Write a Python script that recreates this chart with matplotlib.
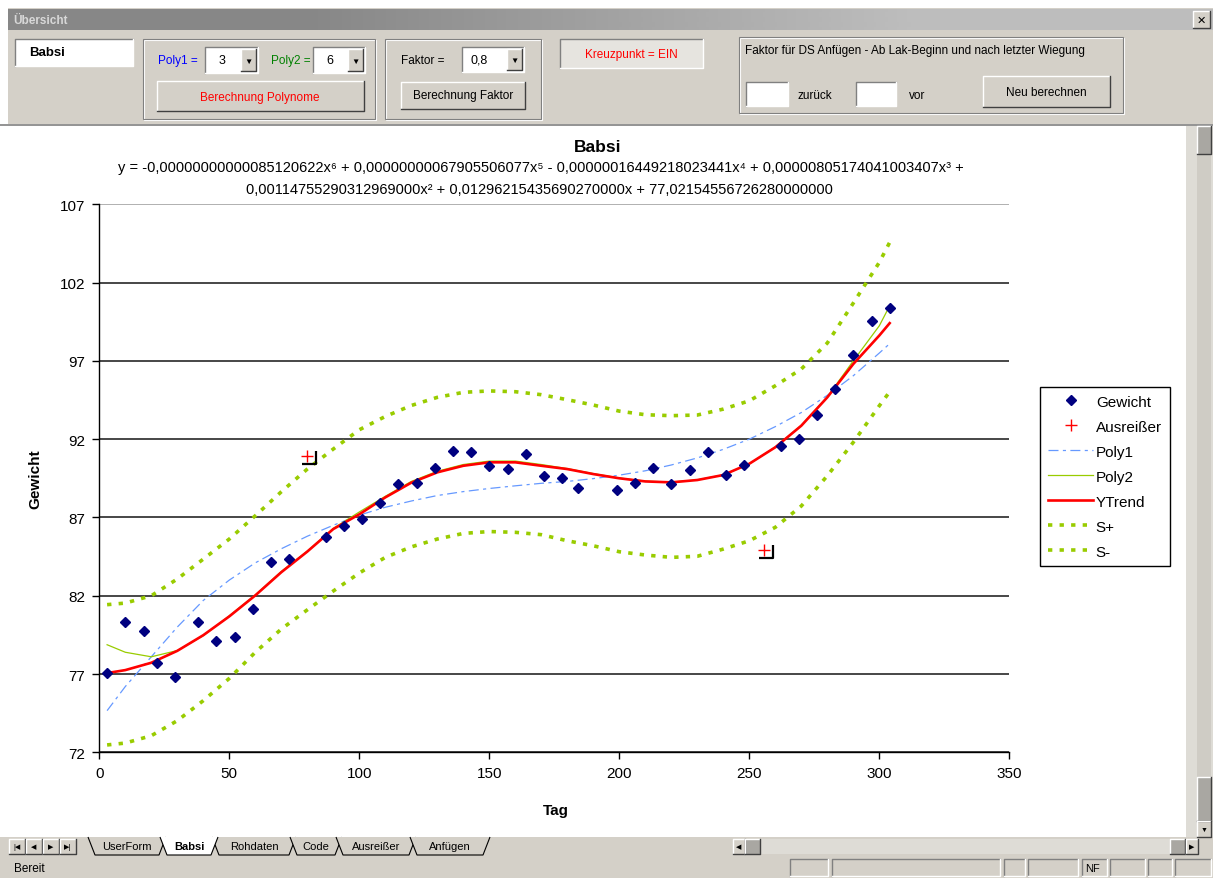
import matplotlib.pyplot as plt
from matplotlib.patches import Rectangle, Polygon
from matplotlib.path import Path
from matplotlib.colors import LinearSegmentedColormap

plt.rcParams['font.family'] = ['Liberation Sans', 'DejaVu Sans']

tag = [3, 10, 17, 22, 29, 38, 45, 52, 59, 66, 73, 87, 94, 101, 108, 115, 122, 129, 136, 143,
       150, 157, 164, 171, 178, 184, 199, 206, 213, 220, 227, 234, 241, 248, 262, 269, 276, 283,
       290, 297, 304]
gewicht = [77.06, 80.34, 79.75, 77.68, 76.79, 80.34, 79.13, 79.34, 81.15, 84.17, 84.32, 85.75,
           86.43, 86.9, 87.92, 89.13, 89.22, 90.13, 91.26, 91.2, 90.28, 90.07, 91.05, 89.66,
           89.53, 88.86, 88.77, 89.22, 90.15, 89.13, 90.0, 91.2, 89.69, 90.37, 91.56, 92.03,
           93.54, 95.18, 97.39, 99.56, 100.37]

# Ausreisser
aus_tag = [80, 255.5]
aus_wert = [90.94, 84.92]

kurve_tag = [3, 10, 20, 30, 40, 50, 60, 70, 80, 90, 100, 110, 120, 130, 140, 150, 160, 170,
             180, 190, 200, 210, 220, 230, 240, 250, 260, 270, 280, 290, 300, 304]
poly1 = [74.66, 76.2, 78.1, 80.0, 81.7, 83.0, 84.1, 85.0, 85.8, 86.5, 87.15, 87.65, 88.05, 88.4,
         88.65, 88.85, 89.02, 89.18, 89.3, 89.48, 89.7, 89.98, 90.35, 90.8, 91.35, 92.0, 92.8,
         93.7, 94.8, 96.05, 97.5, 98.1]
poly2 = [78.87, 78.39, 78.1, 78.5, 79.45, 80.72, 82.05, 83.55, 84.85, 86.3, 87.35, 88.35, 89.3,
         89.95, 90.38, 90.6, 90.6, 90.38, 90.12, 89.8, 89.52, 89.32, 89.26, 89.4, 89.72, 90.42,
         91.5, 92.88, 94.7, 97.0, 99.24, 100.52]
ytrend = [77.06, 77.25, 77.72, 78.48, 79.48, 80.68, 82.02, 83.5, 84.82, 86.26, 87.2, 88.28, 89.22,
          89.88, 90.3, 90.52, 90.52, 90.3, 90.09, 89.77, 89.5, 89.3, 89.24, 89.39, 89.71, 90.43,
          91.48, 92.86, 94.67, 96.8, 98.62, 99.41]
s_plus = [81.43, 81.53, 82.0, 83.07, 84.34, 85.62, 87.11, 88.64, 90.09, 91.37, 92.6, 93.45, 94.15,
          94.67, 94.99, 95.08, 95.03, 94.84, 94.52, 94.18, 93.79, 93.56, 93.5, 93.54, 93.92, 94.45,
          95.41, 96.48, 98.14, 100.69, 103.29, 104.57]
s_minus = [72.47, 72.59, 73.06, 74.02, 75.3, 76.72, 78.39, 79.87, 81.1, 82.3, 83.45, 84.45, 85.12,
           85.62, 85.98, 86.1, 86.05, 85.9, 85.51, 85.19, 84.81, 84.6, 84.45, 84.52, 84.98, 85.51,
           86.37, 87.73, 89.66, 91.8, 94.13, 95.03]

yticks = [72, 77, 82, 87, 92, 97, 102, 107]
xticks = [0, 50, 100, 150, 200, 250, 300, 350]

titel = 'Babsi'
gleichung = ['y = -0,00000000000085120622x\u2076 + 0,00000000067905506077x\u2075 - '
             '0,00000016449218023441x\u2074 + 0,00000805174041003407x\u00b3 +',
             '0,00114755290312969000x\u00b2 + 0,01296215435690270000x + 77,02154556726280000000']
tabs = ['UserForm', 'Babsi', 'Rohdaten', 'Code', 'Ausreißer', 'Anfügen']
tab_x = [88, 160, 212, 290, 336, 410, 484]

W, H = 1213, 879
GRAU = '#d4d0c8'
fig = plt.figure(figsize=(W / 100, H / 100), dpi=100)

# Fensterrahmen / UserForm in Pixelkoordinaten
ui = fig.add_axes([0, 0, 1, 1], zorder=0)
ui.set_xlim(0, W)
ui.set_ylim(H, 0)
ui.axis('off')


def rect(x0, y0, x1, y1, fc, ec='none', lw=0.8, z=1):
    ui.add_patch(Rectangle((x0, y0), x1 - x0, y1 - y0, facecolor=fc, edgecolor=ec,
                           linewidth=lw, zorder=z))


def bevel(x0, y0, x1, y1, fc=GRAU, sunken=False):
    rect(x0, y0, x1, y1, fc, z=2)
    hell, dunkel = ('#808080', 'white') if sunken else ('white', '#404040')
    ui.plot([x0, x0, x1], [y1, y0, y0], color=hell, lw=1, zorder=3)
    ui.plot([x0, x1, x1], [y1, y1, y0], color=dunkel, lw=1, zorder=3)


def frame(x0, y0, x1, y1):
    ui.add_patch(Rectangle((x0 + 1, y0 + 1), x1 - x0, y1 - y0, fill=False, ec='white', lw=0.8, zorder=2))
    ui.add_patch(Rectangle((x0, y0), x1 - x0, y1 - y0, fill=False, ec='#808080', lw=0.8, zorder=2))


def combo(x0, y0, x1, y1, txt):
    bevel(x0, y0, x1, y1, 'white', sunken=True)
    bevel(x1 - 17, y0 + 2, x1 - 2, y1 - 2)
    ui.text(x1 - 9.5, (y0 + y1) / 2 + 1, '\u25bc', fontsize=6, ha='center', va='center', zorder=4)
    ui.text(x0 + 17, (y0 + y1) / 2, txt, fontsize=9, ha='center', va='center', zorder=4)


# Titelleiste
rect(0, 0, W, 9, 'white')
rect(8, 9, W, 125, GRAU)
balken = LinearSegmentedColormap.from_list('balken', ['#878787', '#bdbdbd'])
ui.imshow([[0, 1]], cmap=balken, extent=(8, W, 31, 10), aspect='auto', interpolation='bilinear',
          zorder=1)
ui.set_xlim(0, W)
ui.set_ylim(H, 0)
ui.text(13, 20.5, 'Übersicht', fontsize=8.5, fontweight='bold', color='#d8d8d8', va='center', zorder=4)
bevel(1193, 12, 1210, 29)
ui.text(1201.5, 20.5, '\u2715', fontsize=8, fontweight='bold', ha='center', va='center', zorder=4)

# Steuerelemente
bevel(15, 40, 133, 67, 'white', sunken=True)
ui.text(29, 53.5, 'Babsi', fontsize=9.5, fontweight='bold', va='center', zorder=4)

frame(143, 40, 375, 120)
ui.text(158, 61, 'Poly1 =', fontsize=8.5, color='#0000ff', va='center', zorder=4)
combo(205, 48, 258, 74, '3')
ui.text(271, 61, 'Poly2 =', fontsize=8.5, color='#008000', va='center', zorder=4)
combo(313, 48, 365, 74, '6')
bevel(157, 82, 364, 112)
ui.text(260, 97.5, 'Berechnung Polynome', fontsize=8.5, color='#ff0000', ha='center', va='center', zorder=4)

frame(385, 40, 541, 120)
ui.text(401, 61, 'Faktor =', fontsize=8.5, va='center', zorder=4)
combo(462, 48, 524, 73, '0,8')
bevel(401, 83, 525, 110)
ui.text(463, 96.5, 'Berechnung Faktor', fontsize=8.5, ha='center', va='center', zorder=4)

bevel(560, 40, 703, 69, '#e6e4df', sunken=True)
ui.text(631, 55, 'Kreuzpunkt = EIN', fontsize=8.5, color='#ff0000', ha='center', va='center', zorder=4)

frame(739, 38, 1123, 114)
ui.text(745, 51, 'Faktor für DS Anfügen - Ab Lak-Beginn und nach letzter Wiegung', fontsize=8.5,
        va='center', zorder=4)
bevel(746, 83, 788, 107, 'white', sunken=True)
ui.text(798, 96, 'zurück', fontsize=8.5, va='center', zorder=4)
bevel(856, 83, 896, 107, 'white', sunken=True)
ui.text(909, 96, 'vor', fontsize=8.5, va='center', zorder=4)
bevel(983, 77, 1110, 108)
ui.text(1046.5, 92.5, 'Neu berechnen', fontsize=8.5, ha='center', va='center', zorder=4)

# Trennlinie und Tabellenbereich
ui.plot([0, W], [125.5, 125.5], color='#808080', lw=1.2, zorder=3)
rect(8, 127, 1186, 838, 'white')

# senkrechte Bildlaufleiste
rect(1186, 127, W, 838, '#dedcd6')
rect(1197, 155, 1211, 778, '#cfccc5')
bevel(1197, 127, 1211, 155, '#a9a7a2')
bevel(1197, 778, 1211, 822, '#a9a7a2')
bevel(1197, 822, 1211, 838)
ui.text(1204, 830, '\u25bc', fontsize=5, ha='center', va='center', zorder=4)

# Blattregister
rect(0, 838, W, 857, GRAU)
for i, g in enumerate(['|\u25c0', '\u25c0', '\u25b6', '\u25b6|']):
    bevel(9 + 17 * i, 840, 25 + 17 * i, 855)
    ui.text(17 + 17 * i, 847.5, g, fontsize=5, ha='center', va='center', zorder=4)
for i, name in enumerate(tabs):
    xl, xr = tab_x[i], tab_x[i + 1] + 6
    aktiv = name == 'Babsi'
    ui.add_patch(Polygon([(xl, 838), (xl + 7, 856), (xr - 7, 856), (xr, 838)], closed=False,
                         facecolor='white' if aktiv else GRAU, edgecolor='black', lw=0.8,
                         zorder=5 if aktiv else 3))
    ui.text((xl + xr) / 2, 847.5, name, fontsize=8, ha='center', va='center',
            fontweight='bold' if aktiv else 'normal', zorder=6)
bevel(733, 840, 745, 855)
ui.text(739, 847.5, '\u25c0', fontsize=5, ha='center', va='center', zorder=4)
rect(745, 840, 1185, 855, '#dedcd6')
bevel(745, 840, 760, 855, '#a9a7a2')
bevel(1170, 840, 1185, 855, '#a9a7a2')
bevel(1186, 840, 1198, 855)
ui.text(1192, 847.5, '\u25b6', fontsize=5, ha='center', va='center', zorder=4)

# Statusleiste
rect(0, 857, W, H, GRAU)
ui.text(14, 869, 'Bereit', fontsize=8.5, va='center', zorder=4)
for x0, x1 in [(790, 828), (832, 1000), (1004, 1025), (1028, 1078), (1082, 1107), (1110, 1145),
               (1148, 1172), (1175, 1211)]:
    bevel(x0, 860, x1, 877, GRAU, sunken=True)
ui.text(1085, 869, 'NF', fontsize=8, va='center', zorder=4)

# Diagramm
ax = fig.add_axes([99.3 / W, 1 - 753.3 / H, 910 / W, 548 / H], zorder=3)
ax.set_facecolor('none')

ax.plot(kurve_tag, s_plus, color='#99cc00', lw=2.6, dashes=(1.2, 2.0), solid_capstyle='butt',
        label='S+', zorder=3)
ax.plot(kurve_tag, s_minus, color='#99cc00', lw=2.6, dashes=(1.2, 2.0), solid_capstyle='butt',
        label='S-', zorder=3)
ax.plot(kurve_tag, poly1, color='#6699ff', lw=0.9, dashes=(8, 3.5, 2.5, 3.5), label='Poly1', zorder=4)
ax.plot(kurve_tag, poly2, color='#99cc00', lw=0.9, label='Poly2', zorder=4)
ax.plot(kurve_tag, ytrend, color='#ff0000', lw=1.9, label='YTrend', zorder=5)
ax.plot(tag, gewicht, 'D', color='#000080', ms=5, ls='none', label='Gewicht', zorder=6)
ax.plot(aus_tag, aus_wert, '+', color='#ff0000', ms=8, mew=1, ls='none', label='Ausreißer', zorder=6)

kreuz = Path([(8.7, 5), (8.7, -8), (-4.7, -8)], [Path.MOVETO, Path.LINETO, Path.LINETO])
ax.plot(aus_tag, aus_wert, ls='none', marker=kreuz, ms=12.5, mew=1.6, mec='black', mfc='none', zorder=6)

ax.set_xlim(0, 350)
ax.set_ylim(72, 107)
ax.set_xticks(xticks)
ax.set_yticks(yticks)
ax.yaxis.grid(True, color='#383838', lw=1.3)
ax.get_ygridlines()[-1].set_color('#b0b0b0')
ax.get_ygridlines()[-1].set_linewidth(0.7)
ax.set_axisbelow(True)
for s in ['top', 'right']:
    ax.spines[s].set_visible(False)
for s in ['left', 'bottom']:
    ax.spines[s].set_linewidth(1.0)
ax.tick_params(direction='out', length=5, width=1, labelsize=11, pad=5)

ax.set_ylabel('Gewicht', fontsize=11, fontweight='bold')
ax.yaxis.set_label_coords(-0.063, 0.5)
ax.set_xlabel('Tag', fontsize=11, fontweight='bold')
ax.xaxis.set_label_coords(0.502, -0.092)

fig.text(598 / W, 1 - 147 / H, titel, fontsize=12.5, fontweight='bold', ha='center', va='center')
fig.text(541 / W, 1 - 168 / H, gleichung[0], fontsize=10.5, ha='center', va='center')
fig.text(539 / W, 1 - 190 / H, gleichung[1], fontsize=10.5, ha='center', va='center')

h = {l.get_label(): l for l in ax.get_lines()}
order = ['Gewicht', 'Ausreißer', 'Poly1', 'Poly2', 'YTrend', 'S+', 'S-']
leg = ax.legend([h[k] for k in order], order, loc='upper left', bbox_to_anchor=(1040 / W, 1 - 388 / H),
                bbox_transform=fig.transFigure, fontsize=11, frameon=True, fancybox=False,
                edgecolor='black', framealpha=1, handlelength=3.0, handletextpad=0.15,
                labelspacing=0.72, borderpad=0.5, borderaxespad=0)
leg.get_frame().set_linewidth(1.0)

plt.savefig('out.png', dpi=100)
